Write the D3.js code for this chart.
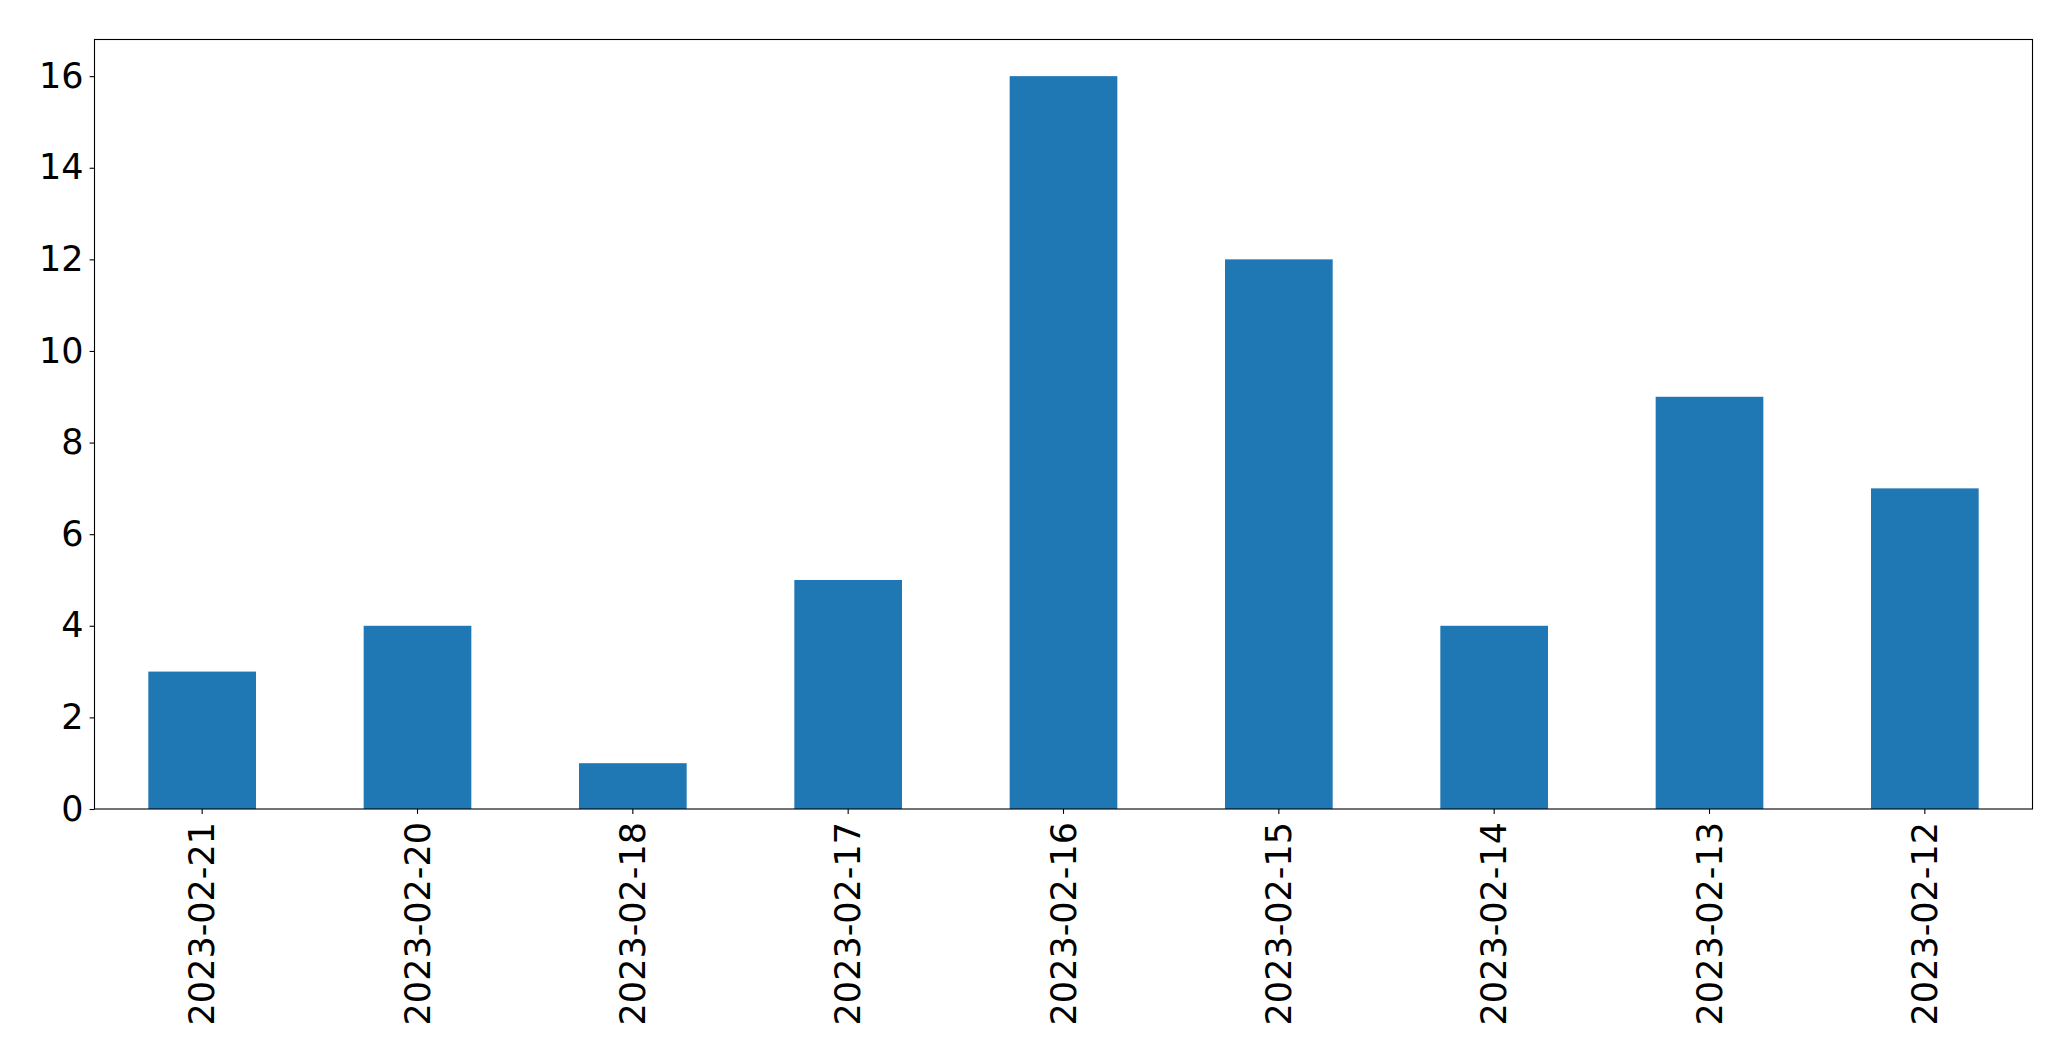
<!DOCTYPE html>
<html>
<head>
	<meta charset="utf-8">
	<title>Counts by date</title>
	<script src="https://d3js.org/d3.v7.min.js"></script>
	<style>
		body { margin: 0; padding: 0; background: white; overflow: hidden; }
		text { font-family: "DejaVu Sans", sans-serif; fill: black; }
	</style>
</head>
<body>
	<script>
		// data
		var dates = ["2023-02-21", "2023-02-20", "2023-02-18", "2023-02-17", "2023-02-16",
			"2023-02-15", "2023-02-14", "2023-02-13", "2023-02-12"];
		var counts = [3, 4, 1, 5, 16, 12, 4, 9, 7];
		var yTicks = [0, 2, 4, 6, 8, 10, 12, 14, 16];

		var width = 2071, height = 1061;
		var m = { left: 94.5, right: 2032.5, top: 39.5, bottom: 809 };
		var fontPx = 35, tickLen = 4.9;

		var svg = d3.select("body").append("svg")
			.attr("width", width)
			.attr("height", height);

		var x = d3.scaleBand()
			.domain(dates)
			.range([m.left, m.right])
			.paddingInner(0.5)
			.paddingOuter(0.25);

		var y = d3.scaleLinear()
			.domain([0, d3.max(counts) * 1.05])
			.range([m.bottom, m.top]);

		svg.append("g").selectAll("rect")
			.data(dates)
			.enter().append("rect")
			.attr("x", (d) => x(d))
			.attr("width", x.bandwidth())
			.attr("y", (d, i) => y(counts[i]))
			.attr("height", (d, i) => y(0) - y(counts[i]))
			.attr("fill", "#1f77b4");

		// frame
		svg.append("rect")
			.attr("x", m.left)
			.attr("y", m.top)
			.attr("width", m.right - m.left)
			.attr("height", m.bottom - m.top)
			.attr("fill", "none")
			.attr("stroke", "black")
			.attr("stroke-width", 1.1);

		var yAxis = svg.append("g")
			.attr("transform", "translate(" + m.left + ",0)")
			.call(d3.axisLeft(y).tickValues(yTicks).tickSize(tickLen).tickPadding(6));
		yAxis.select(".domain").remove();
		yAxis.selectAll(".tick line").attr("stroke-width", 1.1);
		yAxis.selectAll(".tick text")
			.style("font-size", fontPx + "px")
			.attr("fill", "black");

		var xAxis = svg.append("g")
			.attr("transform", "translate(0," + m.bottom + ")")
			.call(d3.axisBottom(x).tickSize(tickLen).tickPadding(0));
		xAxis.select(".domain").remove();
		xAxis.selectAll(".tick line").attr("stroke-width", 1.1);
		xAxis.selectAll(".tick text")
			.style("font-size", fontPx + "px")
			.attr("fill", "black")
			.attr("text-anchor", "end")
			.attr("dy", "0.35em")
			.attr("y", 0)
			.attr("transform", "translate(0,13) rotate(-90)");
	</script>
</body>
</html>
